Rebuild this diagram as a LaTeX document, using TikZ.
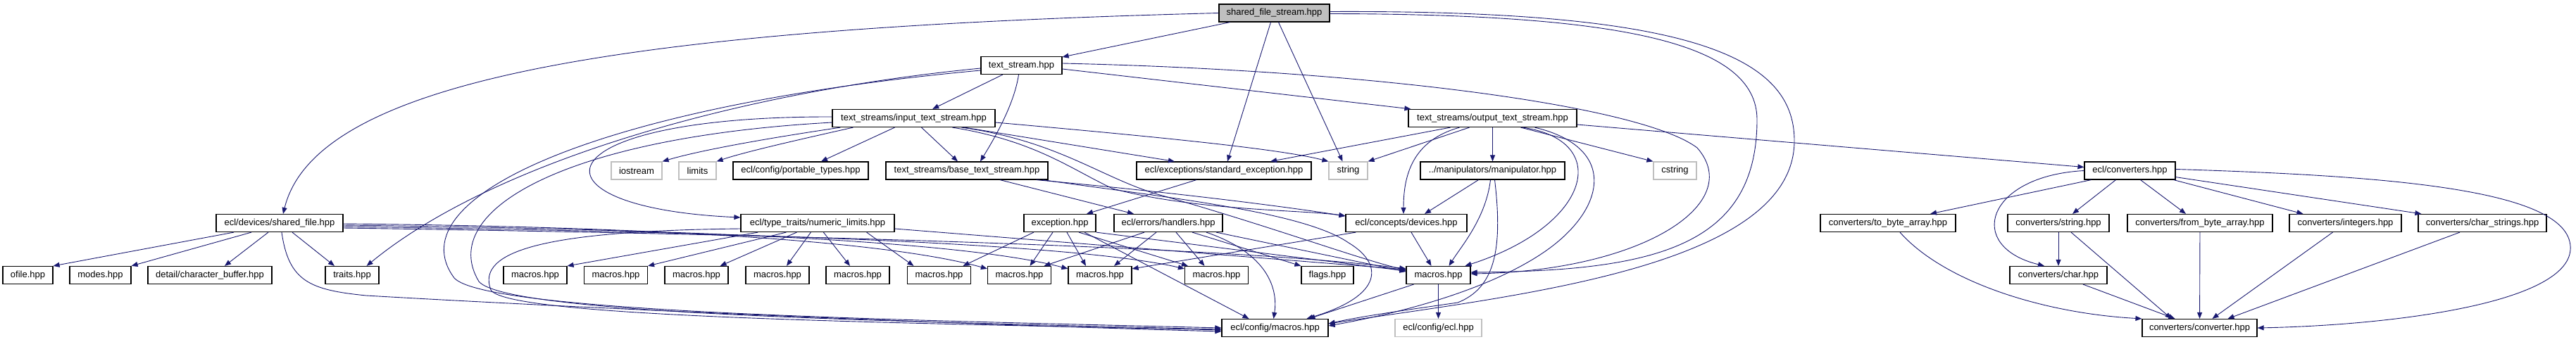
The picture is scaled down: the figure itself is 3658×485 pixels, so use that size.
\documentclass[tikz,border=0pt]{standalone}
\usepackage{fontspec}
\setmainfont{Liberation Sans}
\usetikzlibrary{arrows.meta}
\definecolor{edgeblue}{RGB}{25,25,112}
\definecolor{rootgray}{RGB}{191,191,191}
\definecolor{sysgray}{RGB}{191,191,191}

\begin{document}
\begin{tikzpicture}[x=1pt,y=-1pt,
	file/.style={draw=black,fill=white,line width=1.2pt,minimum height=25pt,inner sep=1pt,font=\fontsize{13}{15}\selectfont},
	sysfile/.style={file,draw=sysgray},
	rootfile/.style={file,fill=rootgray},
	incl/.style={draw=edgeblue,line width=0.9pt,-{Triangle[length=9pt,width=7pt]}}]
	\useasboundingbox (0,0) rectangle (3658,485);

	\draw (1809.5,18.5) node[rootfile,minimum width=157pt] (sfs){shared\_file\_stream.hpp};

	\draw (1450.5,93) node[file,minimum width=115pt] (ts){text\_stream.hpp};

	\draw (1297.5,168) node[file,minimum width=231pt] (its){text\_streams/input\_text\_stream.hpp};
	\draw (2119.5,168) node[file,minimum width=239pt] (ots){text\_streams/output\_text\_stream.hpp};

	\draw (904,242.5) node[sysfile,minimum width=72pt] (iostream){iostream};
	\draw (990.5,242.5) node[sysfile,minimum width=53pt] (limits){limits};
	\draw (1137,242.5) node[file,minimum width=192pt] (ptypes){ecl/config/portable\_types.hpp};
	\draw (1373,242.5) node[file,minimum width=230pt] (bts){text\_streams/base\_text\_stream.hpp};
	\draw (1738,242.5) node[file,minimum width=248pt] (stdexc){ecl/exceptions/standard\_exception.hpp};
	\draw (1914.5,242.5) node[sysfile,minimum width=55pt] (string){string};
	\draw (2119.5,242.5) node[file,minimum width=205pt] (manip){../manipulators/manipulator.hpp};
	\draw (2378.5,242.5) node[sysfile,minimum width=61pt] (cstring){cstring};
	\draw (3024.5,242.5) node[file,minimum width=129pt] (converters){ecl/converters.hpp};

	\draw (397,317) node[file,minimum width=180pt] (sfile){ecl/devices/shared\_file.hpp};
	\draw (1161,317) node[file,minimum width=218pt] (nlimits){ecl/type\_traits/numeric\_limits.hpp};
	\draw (1505,317) node[file,minimum width=102pt] (exc){exception.hpp};
	\draw (1659,317) node[file,minimum width=154pt] (handlers){ecl/errors/handlers.hpp};
	\draw (1997,317) node[file,minimum width=172pt] (devices){ecl/concepts/devices.hpp};
	\draw (2681,317) node[file,minimum width=192pt] (tba){converters/to\_byte\_array.hpp};
	\draw (2923,317) node[file,minimum width=144pt] (cstr){converters/string.hpp};
	\draw (3124,317) node[file,minimum width=206pt] (fba){converters/from\_byte\_array.hpp};
	\draw (3330.5,317) node[file,minimum width=159pt] (cint){converters/integers.hpp};
	\draw (3525,317) node[file,minimum width=182pt] (cchs){converters/char\_strings.hpp};

	\draw (39.5,391) node[file,minimum width=71pt] (ofile){ofile.hpp};
	\draw (142.5,391) node[file,minimum width=87pt] (modes){modes.hpp};
	\draw (298,391) node[file,minimum width=176pt] (cbuf){detail/character\_buffer.hpp};
	\draw (500,391) node[file,minimum width=76pt] (traits){traits.hpp};
	\draw (760,391) node[file,minimum width=90pt] (m1){macros.hpp};
	\draw (874.5,391) node[file,minimum width=90pt] (m2){macros.hpp};
	\draw (989,391) node[file,minimum width=90pt] (m3){macros.hpp};
	\draw (1104,391) node[file,minimum width=90pt] (m4){macros.hpp};
	\draw (1218,391) node[file,minimum width=90pt] (m5){macros.hpp};
	\draw (1333.5,391) node[file,minimum width=90pt] (m6){macros.hpp};
	\draw (1447.5,391) node[file,minimum width=90pt] (m7){macros.hpp};
	\draw (1562,391) node[file,minimum width=90pt] (m8){macros.hpp};
	\draw (1727.5,391) node[file,minimum width=90pt] (m9){macros.hpp};
	\draw (1885,391) node[file,minimum width=74pt] (flags){flags.hpp};
	\draw (2042.5,391) node[file,minimum width=91pt] (macros){macros.hpp};
	\draw (2923,391) node[file,minimum width=138pt] (cchar){converters/char.hpp};

	\draw (1810.5,466) node[file,minimum width=151pt] (cfgmacros){ecl/config/macros.hpp};
	\draw (2042.5,466) node[sysfile,minimum width=123pt] (eclhpp){ecl/config/ecl.hpp};
	\draw (3123.5,466) node[file,minimum width=163pt] (cconv){converters/converter.hpp};

	\draw[incl] (sfs) -- (ts);
	\draw[incl] ([xshift=-5pt]sfs.south) -- ([xshift=5pt]stdexc.north);
	\draw[incl] ([xshift=6pt]sfs.south) -- ([xshift=-8pt]string.north);
	\draw[incl] (sfs.west) .. controls (900,40) and (450,110) .. ([xshift=5pt]sfile.north);
	\draw[incl] ([yshift=-1pt]sfs.east) .. controls (2300,20) and (2495,60) .. (2495,170) .. controls (2495,350) and (2350,385) .. ([yshift=4pt]macros.east);
	\draw[incl] ([yshift=2pt]sfs.east) .. controls (2400,14) and (2548,80) .. (2548,200) .. controls (2548,380) and (2150,420) .. ([yshift=6pt]cfgmacros.east);

	\draw[incl] (ts) -- (its);
	\draw[incl] ([xshift=-4pt]ts.south) .. controls (1440,150) and (1410,200) .. ([xshift=19pt]bts.north);
	\draw[incl] ([yshift=-5pt]ts.east) -- ([xshift=4pt]ots.north west);
	\draw[incl] ([yshift=3pt]ts.east) .. controls (1950,100) and (2330,150) .. (2410,210) .. controls (2480,290) and (2330,385) .. ([yshift=2pt]macros.east);
	\draw[incl] ([yshift=-4pt]ts.west) .. controls (1050,130) and (700,230) .. ([xshift=-18pt]traits.north east);
	\draw[incl] ([yshift=-7pt]ts.west) .. controls (850,150) and (560,280) .. (645,395) .. controls (690,445) and (1300,455) .. (cfgmacros.west);

	\draw[incl] ([xshift=12pt]its.south west) .. controls (1100,195) and (1000,212) .. (iostream.north east);
	\draw[incl] ([xshift=30pt]its.south west) .. controls (1150,195) and (1060,215) .. (limits.north east);
	\draw[incl] ([yshift=2pt]its.west) .. controls (760,165) and (740,295) .. ([yshift=8pt]nlimits.west);
	\draw[incl] ([yshift=-6pt]its.west) .. controls (800,195) and (620,300) .. (680,400) .. controls (720,448) and (1300,457) .. ([yshift=-2pt]cfgmacros.west);
	\draw[incl] ([xshift=-27pt]its.south) -- ([xshift=29pt]ptypes.north);
	\draw[incl] ([xshift=11pt]its.south) -- ([xshift=-13pt]bts.north);
	\draw[incl] ([xshift=72pt]its.south) -- ([xshift=-70pt]stdexc.north);
	\draw[incl] ([yshift=-6pt]its.east) .. controls (1650,195) and (1820,212) .. (string.north west);
	\draw[incl] ([xshift=55pt]its.south) .. controls (1470,200) and (1520,240) .. (1580,268) .. controls (1700,300) and (1850,298) .. ([yshift=-3pt]devices.north west);
	\draw[incl] ([xshift=68pt]its.south) .. controls (1500,200) and (1560,250) .. (1640,275) .. controls (1800,320) and (1920,365) .. ([yshift=7pt]macros.west);

	\draw[incl] ([xshift=-33pt]ots.south) -- (string.north east);
	\draw[incl] ([xshift=-60pt]ots.south) -- ([xshift=66pt]stdexc.north);
	\draw[incl] (ots) -- (manip);
	\draw[incl] ([xshift=40pt]ots.south) -- (cstring.north west);
	\draw[incl] ([xshift=-47pt]ots.south) .. controls (2005,200) and (1993,250) .. ([xshift=-4pt]devices.north);
	\draw[incl] ([xshift=43pt]ots.south) .. controls (2290,200) and (2260,320) .. ([xshift=38pt]macros.north);
	\draw[incl] ([xshift=60pt]ots.south) .. controls (2300,210) and (2280,300) .. (2190,360) .. controls (2100,420) and (1960,450) .. ([yshift=3pt]cfgmacros.east);
	\draw[incl] ([yshift=-9pt]ots.east) -- ([yshift=5pt]converters.west);

	\draw[incl] ([xshift=47pt]bts.south) -- ([xshift=-49pt]handlers.north);
	\draw[incl] ([xshift=-17pt]bts.south east) .. controls (1650,272) and (1800,290) .. ([yshift=-3pt]devices.north west);
	\draw[incl] ([xshift=-8pt]bts.south east) .. controls (1650,280) and (1850,300) .. (1915,345) .. controls (1965,375) and (1965,420) .. ([xshift=45pt]cfgmacros.north);

	\draw[incl] ([xshift=-39pt]stdexc.south) -- ([xshift=38pt]exc.north);

	\draw[incl] ([xshift=-65pt]sfile.south) -- (ofile.north east);
	\draw[incl] ([xshift=-40pt]sfile.south) -- (modes.north east);
	\draw[incl] ([xshift=-16pt]sfile.south) -- ([xshift=21pt]cbuf.north);
	\draw[incl] ([xshift=18pt]sfile.south) -- ([xshift=-25pt]traits.north);
	\draw[incl] ([xshift=3pt]sfile.south) .. controls (410,400) and (440,412) .. (520,420) .. controls (900,442) and (1400,462) .. ([yshift=-5pt]cfgmacros.west);
	\draw[incl] ([yshift=-1pt]sfile.east) .. controls (900,322) and (1250,340) .. ([yshift=-4pt]m7.north west);
	\draw[incl] ([yshift=-3pt]sfile.east) .. controls (900,325) and (1350,338) .. ([yshift=-4pt]m8.north west);
	\draw[incl] ([yshift=-5pt]sfile.east) .. controls (900,328) and (1500,340) .. ([yshift=-4pt]m9.north west);
	\draw[incl] ([yshift=-7pt]sfile.east) .. controls (900,330) and (1700,345) .. ([yshift=-4pt]macros.north west);

	\draw[incl] ([xshift=25pt]nlimits.south west) -- (m1.north east);
	\draw[incl] ([xshift=65pt]nlimits.south west) -- (m2.north east);
	\draw[incl] ([xshift=80pt]nlimits.south west) -- ([xshift=-12pt]m3.north east);
	\draw[incl] ([xshift=100pt]nlimits.south west) -- ([xshift=13pt]m4.north);
	\draw[incl] ([xshift=118pt]nlimits.south west) -- ([xshift=-11pt]m5.north);
	\draw[incl] ([xshift=-40pt]nlimits.south east) -- ([xshift=-36pt]m6.north);
	\draw[incl] ([yshift=-8pt]nlimits.west) .. controls (780,328) and (675,355) .. (697,412) .. controls (720,452) and (1300,459) .. ([yshift=-3pt]cfgmacros.west);
	\draw[incl] ([yshift=-8pt]nlimits.east) -- ([yshift=8pt]macros.west);

	\draw[incl] ([xshift=-37pt]exc.south) -- ([xshift=34pt]m6.north);
	\draw[incl] ([xshift=-10pt]exc.south) -- ([xshift=15pt]m7.north);
	\draw[incl] ([xshift=10pt]exc.south) -- ([xshift=-20pt]m8.north);
	\draw[incl] ([xshift=27pt]exc.south) -- ([xshift=5pt]m9.north west);
	\draw[incl] ([xshift=35pt]exc.south) -- ([xshift=-37pt]cfgmacros.north);
	\draw[incl] (exc.south east) -- ([yshift=6pt]macros.west);

	\draw[incl] ([xshift=-34pt]handlers.south) -- ([xshift=35pt]m7.north);
	\draw[incl] ([xshift=-17pt]handlers.south) -- ([xshift=20pt]m8.north);
	\draw[incl] ([xshift=11pt]handlers.south) -- ([xshift=-17pt]m9.north);
	\draw[incl] ([xshift=34pt]handlers.south) -- (flags.north west);
	\draw[incl] ([xshift=54pt]handlers.south) .. controls (1800,360) and (1815,410) .. ([xshift=-2pt]cfgmacros.north);
	\draw[incl] ([xshift=68pt]handlers.south) -- ([yshift=5pt]macros.west);

	\draw[incl] ([xshift=15pt]devices.south west) -- ([yshift=-4pt]m8.north east);
	\draw[incl] ([xshift=7pt]devices.south) -- ([xshift=-10pt]macros.north);

	\draw[incl] ([xshift=-20pt]manip.south) -- ([xshift=26pt]devices.north);
	\draw[incl] ([xshift=-3pt]manip.south) .. controls (2110,310) and (2075,350) .. ([xshift=15pt]macros.north);
	\draw[incl] ([xshift=3pt]manip.south) .. controls (2135,360) and (2120,410) .. (2070,430) .. controls (2000,440) and (1930,450) .. ([yshift=6pt]cfgmacros.east);

	\draw[incl] ([xshift=-35pt]macros.south) -- ([xshift=48pt]cfgmacros.north);
	\draw[incl] (macros) -- (eclhpp);

	\draw[incl] ([xshift=-55pt]converters.south) -- ([xshift=60pt]tba.north);
	\draw[incl] ([xshift=-20pt]converters.south) -- ([xshift=20pt]cstr.north);
	\draw[incl] ([xshift=15pt]converters.south) -- ([xshift=-20pt]fba.north);
	\draw[incl] ([xshift=-3pt]converters.south east) -- ([xshift=-60pt]cint.north);
	\draw[incl] ([yshift=4pt]converters.south east) -- ([xshift=5pt]cchs.north west);
	\draw[incl] (converters.west) .. controls (2820,250) and (2790,350) .. ([xshift=-20pt]cchar.north);
	\draw[incl] ([yshift=2pt]converters.east) .. controls (3400,250) and (3645,270) .. (3650,350) .. controls (3655,430) and (3400,462) .. (cconv.east);

	\draw[incl] ([xshift=17pt]tba.south) .. controls (2760,400) and (2900,445) .. (cconv.north west);
	\draw[incl] (cstr) -- (cchar);
	\draw[incl] ([xshift=18pt]cstr.south) -- ([xshift=-40pt]cconv.north);
	\draw[incl] (fba) -- (cconv);
	\draw[incl] ([xshift=-18pt]cint.south) -- ([xshift=18pt]cconv.north);
	\draw[incl] ([xshift=-32pt]cchs.south) -- ([xshift=40pt]cconv.north);
	\draw[incl] ([xshift=35pt]cchar.south) -- ([xshift=-35pt]cconv.north);
\end{tikzpicture}
\end{document}
